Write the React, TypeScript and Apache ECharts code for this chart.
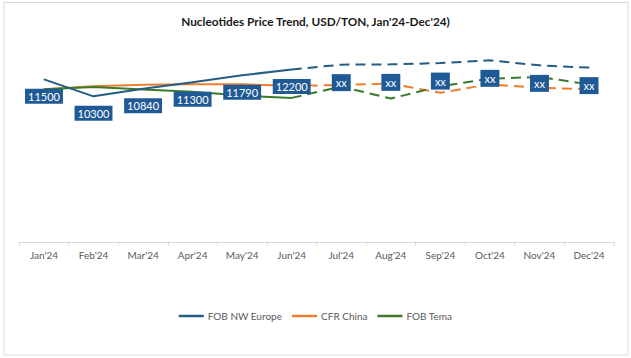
import React, { useEffect, useRef } from "react";
import * as echarts from "echarts";

const months = ["Jan'24", "Feb'24", "Mar'24", "Apr'24", "May'24", "Jun'24", "Jul'24", "Aug'24", "Sep'24", "Oct'24", "Nov'24", "Dec'24"];
// Actual (Jan-Jun) and forecast (Jun-Dec) values
const europeActual = [11500, 10300, 10840, 11300, 11790, 12200];
const europeForecast = [12200, 12540, 12560, 12650, 12845, 12490, 12330];
const chinaActual = [10800, 11010, 11115, 11150, 11150, 11045];
const chinaForecast = [11045, 11100, 11200, 10550, 11150, 10890, 10820];
const temaActual = [10800, 10960, 10780, 10620, 10350, 10190];
const temaForecast = [10190, 10990, 10140, 11010, 11550, 11670, 11150];
const forecastLabel = "xx";

const FONT = "Lato, 'Liberation Sans', sans-serif";
const BLUE = "#245C82";
const ORANGE = "#ED7D31";
const GREEN = "#3A7A2A";
const LABEL_BG = "#1F5A96";

function actual(vals: number[]) {
  return months.map((_, i) => (i < vals.length ? vals[i] : "-"));
}
function forecast(vals: number[]) {
  const start = months.length - vals.length;
  return months.map((_, i) => (i >= start ? vals[i - start] : "-"));
}

export default function App() {
  const ref = useRef<HTMLDivElement>(null);
  useEffect(() => {
    if (!ref.current) return;
    const chart = echarts.init(ref.current, undefined, { renderer: "svg" });
    const labelStyle = {
      show: true,
      position: "bottom" as const,
      distance: 9,
      backgroundColor: LABEL_BG,
      color: "#ffffff",
      padding: [2, 3],
      fontSize: 11,
      lineHeight: 11,
      fontFamily: FONT,
    };
    const base = (name: string, color: string, dashed: boolean, z: number) => ({
      name,
      type: "line" as const,
      symbol: "circle",
      symbolSize: 1,
      showSymbol: true,
      z,
      itemStyle: { color },
      lineStyle: { color, width: 2, type: dashed ? [10, 6] : "solid", cap: "butt" },
      emphasis: { disabled: true },
    });
    const europeFc = forecast(europeForecast).map((v, i) =>
      i === months.length - europeForecast.length ? { value: v, label: { show: false } } : v
    );
    chart.setOption({
      animation: false,
      backgroundColor: "#ffffff",
      textStyle: { fontFamily: FONT },
      title: {
        text: "Nucleotides Price Trend, USD/TON, Jan'24-Dec'24)",
        left: "center",
        top: 10,
        textStyle: { fontSize: 11.8, fontWeight: "bold", color: "#1a1a1a", fontFamily: FONT },
      },
      graphic: [
        {
          type: "rect",
          shape: { x: 4, y: 2.5, width: 624, height: 352.5 },
          style: { fill: "none", stroke: "#D9D9D9", lineWidth: 1 },
          silent: true,
        },
      ],
      legend: {
        left: "center",
        top: 306,
        icon: "rect",
        itemWidth: 25,
        itemHeight: 2.5,
        itemGap: 10,
        textStyle: { fontSize: 10, color: "#595959", fontFamily: FONT, padding: [0, 0, 0, -1] },
        data: ["FOB NW Europe", "CFR China", "FOB Tema"],
      },
      grid: { left: 19.2, right: 17.2, top: 44, bottom: 116 },
      xAxis: {
        type: "category",
        data: months,
        boundaryGap: true,
        axisLine: { lineStyle: { color: "#D9D9D9" } },
        axisTick: { show: true, length: 4, lineStyle: { color: "#D9D9D9" } },
        axisLabel: { color: "#595959", fontSize: 10, margin: 8, fontFamily: FONT },
      },
      yAxis: {
        type: "value",
        min: 0,
        max: 14000,
        show: false,
        splitLine: { show: false },
      },
      series: [
        { ...base("CFR China", ORANGE, false, 2), data: actual(chinaActual) },
        { ...base("CFR China", ORANGE, true, 2), data: forecast(chinaForecast) },
        { ...base("FOB Tema", GREEN, false, 2), data: actual(temaActual) },
        { ...base("FOB Tema", GREEN, true, 2), data: forecast(temaForecast) },
        { ...base("FOB NW Europe", BLUE, false, 3), data: actual(europeActual), label: labelStyle },
        {
          ...base("FOB NW Europe", BLUE, true, 3),
          data: europeFc,
          label: { ...labelStyle, padding: [3, 4], formatter: () => forecastLabel },
        },
      ],
    });
    return () => chart.dispose();
  }, []);
  return (
    <div
      ref={ref}
      style={{ position: "fixed", left: 0, top: 0, width: 631, height: 358, background: "#fff" }}
    />
  );
}
